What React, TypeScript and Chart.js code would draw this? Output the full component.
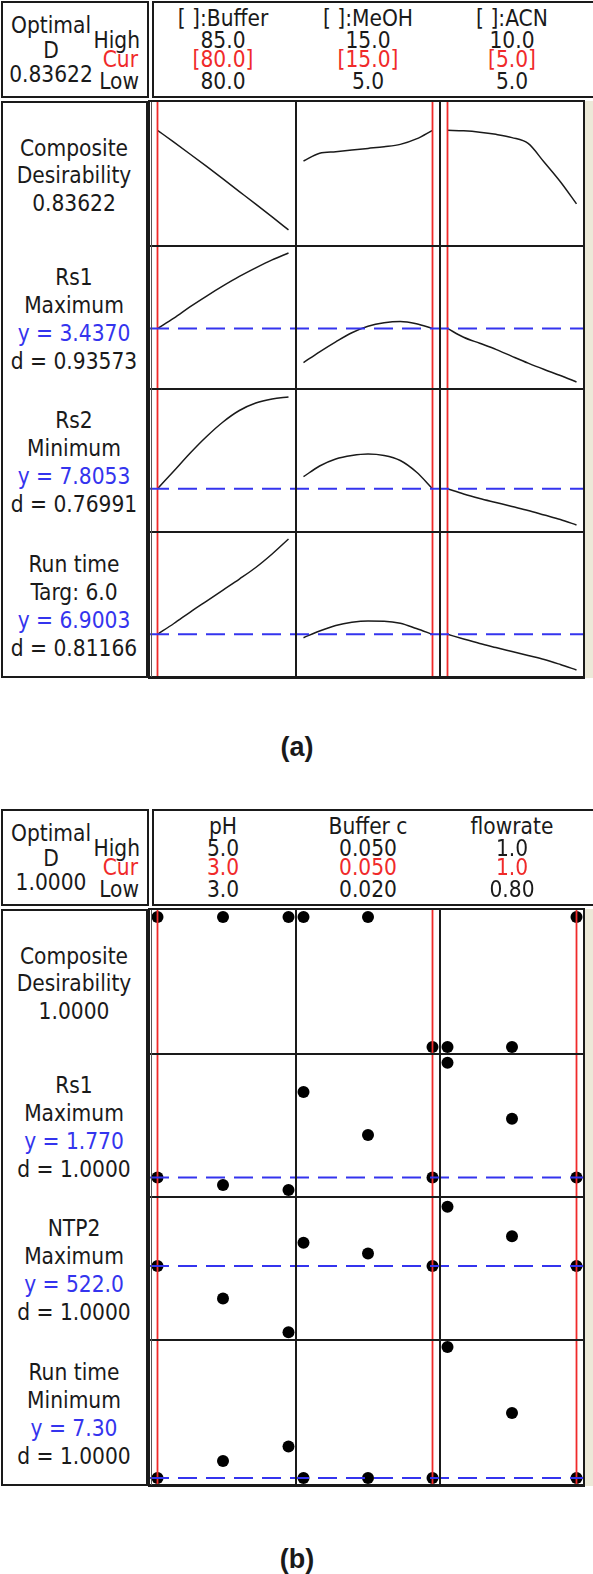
import React, { useEffect, useRef } from "react";
import { Chart, registerables } from "chart.js";
Chart.register(...registerables);

// ================= Panel (a) : response curves =================
const A_OPTIMAL_D = "0.83622";
const A_FACTOR_NAMES = ["[ ]:Buffer", "[ ]:MeOH", "[ ]:ACN"];
const A_HIGH_LABELS = ["85.0", "15.0", "10.0"];
const A_CUR_LABELS = ["[80.0]", "[15.0]", "[5.0]"];
const A_LOW_LABELS = ["80.0", "5.0", "5.0"];
const A_LOW = [80, 5, 5];
const A_HIGH = [85, 15, 10];
const A_CUR = [80, 15, 5];

const A_X_BUFFER = [80, 80.625, 81.25, 81.875, 82.5, 83.125, 83.75, 84.375, 85];
const A_X_MEOH = [5, 6.25, 7.5, 8.75, 10, 11.25, 12.5, 13.75, 15];
const A_X_ACN = [5, 5.625, 6.25, 6.875, 7.5, 8.125, 8.75, 9.375, 10];

// Composite desirability
const A_D_BUFFER = [0.836, 0.745, 0.652, 0.558, 0.462, 0.365, 0.268, 0.17, 0.07];
const A_D_MEOH = [0.6, 0.66, 0.672, 0.684, 0.697, 0.71, 0.728, 0.77, 0.836];
const A_D_ACN = [0.836, 0.832, 0.822, 0.805, 0.78, 0.735, 0.59, 0.44, 0.27];
// Rs1
const A_RS1_BUFFER = [3.437, 3.559, 3.696, 3.822, 3.942, 4.055, 4.157, 4.252, 4.334];
const A_RS1_MEOH = [3.031, 3.159, 3.278, 3.386, 3.463, 3.505, 3.52, 3.493, 3.437];
const A_RS1_ACN = [3.437, 3.332, 3.26, 3.188, 3.105, 3.024, 2.949, 2.878, 2.8];
// Rs2
const A_RS2_BUFFER = [7.805, 8.1, 8.4, 8.675, 8.917, 9.108, 9.233, 9.3, 9.333];
const A_RS2_MEOH = [8.005, 8.183, 8.3, 8.358, 8.383, 8.358, 8.275, 8.083, 7.805];
const A_RS2_ACN = [7.805, 7.717, 7.642, 7.575, 7.508, 7.442, 7.367, 7.292, 7.2];
// Run time
const A_RT_BUFFER = [6.9, 7.082, 7.275, 7.46, 7.645, 7.83, 8.024, 8.251, 8.503];
const A_RT_MEOH = [6.843, 6.956, 7.048, 7.102, 7.124, 7.121, 7.087, 6.998, 6.9];
const A_RT_ACN = [6.9, 6.821, 6.746, 6.678, 6.611, 6.544, 6.477, 6.392, 6.3];

const A_Y_MIN = [0, 2.8, 7.2, 6.3];
const A_Y_MAX = [1, 4.334, 9.35, 8.503];
const A_Y_CUR: (number | null)[] = [null, 3.437, 7.8053, 6.9003];
const A_ROW_TEXT = [
  ["Composite", "Desirability", "0.83622"],
  ["Rs1", "Maximum", "y = 3.4370", "d = 0.93573"],
  ["Rs2", "Minimum", "y = 7.8053", "d = 0.76991"],
  ["Run time", "Targ: 6.0", "y = 6.9003", "d = 0.81166"],
];

// ================= Panel (b) : design points =================
const B_OPTIMAL_D = "1.0000";
const B_FACTOR_NAMES = ["pH", "Buffer c", "flowrate"];
const B_HIGH_LABELS = ["5.0", "0.050", "1.0"];
const B_CUR_LABELS = ["3.0", "0.050", "1.0"];
const B_LOW_LABELS = ["3.0", "0.020", "0.80"];
const B_LOW = [3, 0.02, 0.8];
const B_HIGH = [5, 0.05, 1.0];
const B_CUR = [3, 0.05, 1.0];

const B_X_PH = [3, 4, 5];
const B_X_BUFC = [0.02, 0.035, 0.05];
const B_X_FLOW = [0.8, 0.9, 1.0];

const B_D_PH = [1, 1, 1];
const B_D_BUFC = [1, 1, 0];
const B_D_FLOW = [0, 0, 1];
const B_RS1_PH = [1.77, 1.728, 1.7];
const B_RS1_BUFC = [2.254, 2.011, 1.77];
const B_RS1_FLOW = [2.419, 2.103, 1.77];
const B_NTP2_PH = [522.0, 462.8, 401.3];
const B_NTP2_BUFC = [564.5, 544.8, 522.0];
const B_NTP2_FLOW = [630.2, 576.4, 522.0];
const B_RT_PH = [7.3, 7.98, 8.55];
const B_RT_BUFC = [7.3, 7.3, 7.3];
const B_RT_FLOW = [12.51, 9.888, 7.3];

const B_Y_MIN = [0, 1.7, 400, 7.3];
const B_Y_MAX = [1, 2.429, 635, 12.51];
const B_Y_CUR: (number | null)[] = [null, 1.77, 522.0, 7.3];
const B_ROW_TEXT = [
  ["Composite", "Desirability", "1.0000"],
  ["Rs1", "Maximum", "y = 1.770", "d = 1.0000"],
  ["NTP2", "Maximum", "y = 522.0", "d = 1.0000"],
  ["Run time", "Minimum", "y = 7.30", "d = 1.0000"],
];

// ================= layout =================
const COLB = [150, 296, 440, 584];
const ROWB = [102, 246, 389, 532, 677];
const PADX = 7.5;
const PADY = 7;
const FONT = '"DejaVu Sans Condensed", "DejaVu Sans", sans-serif';
const FSIZE = 22.5;
const INK = "#1a1a1a";
const RED = "#f02a2a";
const BLUE = "#3434ee";

const refLinesPlugin = {
  id: "refLines",
  afterDatasetsDraw(chart: any, _args: any, opts: any) {
    const ctx = chart.ctx;
    const sx = chart.scales.x;
    const sy = chart.scales.y;
    ctx.save();
    if (opts.curX !== null && opts.curX !== undefined) {
      const x = sx.getPixelForValue(opts.curX);
      ctx.strokeStyle = RED;
      ctx.lineWidth = 1.8;
      ctx.beginPath();
      ctx.moveTo(x, 0);
      ctx.lineTo(x, chart.height);
      ctx.stroke();
    }
    if (opts.curY !== null && opts.curY !== undefined) {
      const y = sy.getPixelForValue(opts.curY);
      ctx.strokeStyle = BLUE;
      ctx.lineWidth = 2;
      ctx.setLineDash([19, 9]);
      ctx.lineDashOffset = opts.dashOffset || 0;
      ctx.beginPath();
      ctx.moveTo(0, y);
      ctx.lineTo(chart.width, y);
      ctx.stroke();
    }
    ctx.restore();
  },
};

type CellProps = {
  left: number; top: number; w: number; h: number;
  xs: number[]; ys: number[];
  xMin: number; xMax: number; yMin: number; yMax: number;
  curX: number; curY: number | null; dashOffset: number; mode: "line" | "dots";
};

function Cell(p: CellProps) {
  const ref = useRef<HTMLCanvasElement>(null);
  useEffect(() => {
    const data = p.xs.map((x, i) => ({ x, y: p.ys[i] }));
    const ds: any =
      p.mode === "line"
        ? { data, borderColor: INK, borderWidth: 1.5, pointRadius: 0, cubicInterpolationMode: "monotone", fill: false, clip: false }
        : { data, showLine: false, pointRadius: 6, pointBackgroundColor: "#000", pointBorderColor: "#000", pointBorderWidth: 0, clip: false };
    const chart = new Chart(ref.current as HTMLCanvasElement, {
      type: p.mode === "line" ? "line" : "scatter",
      data: { datasets: [ds] },
      options: {
        responsive: false,
        animation: false,
        events: [],
        layout: { padding: { left: PADX, right: PADX, top: PADY, bottom: PADY } },
        plugins: {
          legend: { display: false },
          tooltip: { enabled: false },
          refLines: { curX: p.curX, curY: p.curY, dashOffset: p.dashOffset },
        } as any,
        scales: {
          x: { type: "linear", display: false, min: p.xMin, max: p.xMax },
          y: { type: "linear", display: false, min: p.yMin, max: p.yMax },
        },
      },
      plugins: [refLinesPlugin],
    });
    return () => chart.destroy();
  }, []);
  return (
    <canvas
      ref={ref}
      width={p.w}
      height={p.h}
      style={{ position: "absolute", left: p.left, top: p.top, width: p.w, height: p.h }}
    />
  );
}

function T(props: { x: number; y: number; text: string; color?: string; align?: "center" | "right"; size?: number; bold?: boolean; family?: string }) {
  const tr = props.align === "right" ? "translate(-100%,-50%)" : "translate(-50%,-50%)";
  return (
    <div
      style={{
        position: "absolute",
        left: props.x,
        top: props.y,
        transform: tr,
        whiteSpace: "nowrap",
        lineHeight: 1,
        fontSize: props.size || FSIZE,
        color: props.color || INK,
        fontFamily: props.family || FONT,
        fontStretch: "condensed",
        fontWeight: props.bold ? 700 : 400,
      }}
    >
      {props.text}
    </div>
  );
}

function Box(props: { l: number; t: number; r: number; b: number; bw?: number; bg?: string }) {
  return (
    <div
      style={{
        position: "absolute",
        left: props.l,
        top: props.t,
        width: props.r - props.l,
        height: props.b - props.t,
        boxSizing: "border-box",
        border: `${props.bw || 2}px solid ${INK}`,
        background: props.bg || "#fff",
      }}
    />
  );
}

function Bar(props: { l: number; t: number; w: number; h: number; c?: string }) {
  return <div style={{ position: "absolute", left: props.l, top: props.t, width: props.w, height: props.h, background: props.c || INK }} />;
}

type PanelProps = {
  y0: number; optimal: string; names: string[]; highs: string[]; curs: string[]; lows: string[];
  lo: number[]; hi: number[]; cur: number[];
  xs: number[][]; ys: number[][][]; yMin: number[]; yMax: number[]; yCur: (number | null)[];
  rowText: string[][]; mode: "line" | "dots";
};

function Panel(p: PanelProps) {
  const y0 = p.y0;
  const els: any[] = [];
  // header boxes
  els.push(<Box key="hl" l={1} t={y0 + 1} r={149} b={y0 + 98} bw={2.5} />);
  els.push(<Box key="hr" l={152} t={y0 + 1} r={640} b={y0 + 98} bw={2.5} />);
  // body label box
  els.push(<Box key="bl" l={1} t={y0 + ROWB[0] - 1} r={148} b={y0 + ROWB[4] + 1} />);
  // beige strip
  els.push(<Bar key="beige" l={585} t={y0 + ROWB[0] - 1} w={10} h={ROWB[4] - ROWB[0] + 2} c="#ece9d8" />);
  // cells
  for (let r = 0; r < 4; r++) {
    for (let c = 0; c < 3; c++) {
      els.push(
        <Cell
          key={`c${r}${c}`}
          left={COLB[c]}
          top={y0 + ROWB[r]}
          w={COLB[c + 1] - COLB[c]}
          h={ROWB[r + 1] - ROWB[r]}
          xs={p.xs[c]}
          ys={p.ys[r][c]}
          xMin={p.lo[c]}
          xMax={p.hi[c]}
          yMin={p.yMin[r]}
          yMax={p.yMax[r]}
          curX={p.cur[c]}
          curY={p.yCur[r]}
          dashOffset={COLB[c] - COLB[0]}
          mode={p.mode}
        />
      );
    }
  }
  // grid lines
  for (let r = 1; r < 4; r++) els.push(<Bar key={`rl${r}`} l={COLB[0]} t={y0 + ROWB[r] - 1} w={COLB[3] - COLB[0]} h={2} />);
  for (let c = 1; c < 3; c++) els.push(<Bar key={`cl${c}`} l={COLB[c] - 1} t={y0 + ROWB[0]} w={2} h={ROWB[4] - ROWB[0]} />);
  // plot frame
  els.push(<Bar key="ft" l={COLB[0] - 1} t={y0 + ROWB[0] - 2} w={COLB[3] - COLB[0] + 2} h={2} />);
  els.push(<Bar key="fb" l={COLB[0] - 1} t={y0 + ROWB[4] - 1} w={COLB[3] - COLB[0] + 2} h={3} />);
  els.push(<Bar key="fl" l={COLB[0] - 2} t={y0 + ROWB[0] - 2} w={2} h={ROWB[4] - ROWB[0] + 4} />);
  els.push(<Bar key="fl2" l={COLB[0] + 1} t={y0 + ROWB[0]} w={1} h={ROWB[4] - ROWB[0]} c="#555" />);
  els.push(<Bar key="fr" l={COLB[3] - 1} t={y0 + ROWB[0] - 2} w={2} h={ROWB[4] - ROWB[0] + 4} />);
  // header texts
  els.push(<T key="o1" x={51} y={y0 + 25} text="Optimal" />);
  els.push(<T key="o2" x={51} y={y0 + 50} text="D" />);
  els.push(<T key="o3" x={51} y={y0 + 73.5} text={p.optimal} />);
  els.push(<T key="hh" x={140} y={y0 + 40} text="High" align="right" />);
  els.push(<T key="hc" x={138} y={y0 + 59} text="Cur" align="right" color={RED} />);
  els.push(<T key="hlw" x={139} y={y0 + 81} text="Low" align="right" />);
  for (let c = 0; c < 3; c++) {
    const cx = (COLB[c] + COLB[c + 1]) / 2;
    els.push(<T key={`n${c}`} x={cx} y={y0 + 18} text={p.names[c]} />);
    els.push(<T key={`h${c}`} x={cx} y={y0 + 40} text={p.highs[c]} />);
    els.push(<T key={`u${c}`} x={cx} y={y0 + 59} text={p.curs[c]} color={RED} />);
    els.push(<T key={`l${c}`} x={cx} y={y0 + 81} text={p.lows[c]} />);
  }
  // row labels
  for (let r = 0; r < 4; r++) {
    const lines = p.rowText[r];
    const cy = y0 + (ROWB[r] + ROWB[r + 1]) / 2 + 1;
    const sp = lines.length === 3 ? 27.5 : 28;
    lines.forEach((s, i) => {
      const yy = cy + (i - (lines.length - 1) / 2) * sp;
      els.push(<T key={`r${r}_${i}`} x={74} y={yy} text={s} color={s.startsWith("y = ") ? BLUE : INK} />);
    });
  }
  return <>{els}</>;
}

export default function App() {
  return (
    <div style={{ position: "absolute", left: 0, top: 0, width: 593, height: 1574, overflow: "hidden", background: "#fff" }}>
      <Panel
        y0={0}
        optimal={A_OPTIMAL_D}
        names={A_FACTOR_NAMES}
        highs={A_HIGH_LABELS}
        curs={A_CUR_LABELS}
        lows={A_LOW_LABELS}
        lo={A_LOW}
        hi={A_HIGH}
        cur={A_CUR}
        xs={[A_X_BUFFER, A_X_MEOH, A_X_ACN]}
        ys={[
          [A_D_BUFFER, A_D_MEOH, A_D_ACN],
          [A_RS1_BUFFER, A_RS1_MEOH, A_RS1_ACN],
          [A_RS2_BUFFER, A_RS2_MEOH, A_RS2_ACN],
          [A_RT_BUFFER, A_RT_MEOH, A_RT_ACN],
        ]}
        yMin={A_Y_MIN}
        yMax={A_Y_MAX}
        yCur={A_Y_CUR}
        rowText={A_ROW_TEXT}
        mode="line"
      />
      <T x={297} y={747} text="(a)" bold size={27} family='"Liberation Sans", Arial, sans-serif' />
      <Panel
        y0={808}
        optimal={B_OPTIMAL_D}
        names={B_FACTOR_NAMES}
        highs={B_HIGH_LABELS}
        curs={B_CUR_LABELS}
        lows={B_LOW_LABELS}
        lo={B_LOW}
        hi={B_HIGH}
        cur={B_CUR}
        xs={[B_X_PH, B_X_BUFC, B_X_FLOW]}
        ys={[
          [B_D_PH, B_D_BUFC, B_D_FLOW],
          [B_RS1_PH, B_RS1_BUFC, B_RS1_FLOW],
          [B_NTP2_PH, B_NTP2_BUFC, B_NTP2_FLOW],
          [B_RT_PH, B_RT_BUFC, B_RT_FLOW],
        ]}
        yMin={B_Y_MIN}
        yMax={B_Y_MAX}
        yCur={B_Y_CUR}
        rowText={B_ROW_TEXT}
        mode="dots"
      />
      <T x={297} y={1559} text="(b)" bold size={27} family='"Liberation Sans", Arial, sans-serif' />
    </div>
  );
}
